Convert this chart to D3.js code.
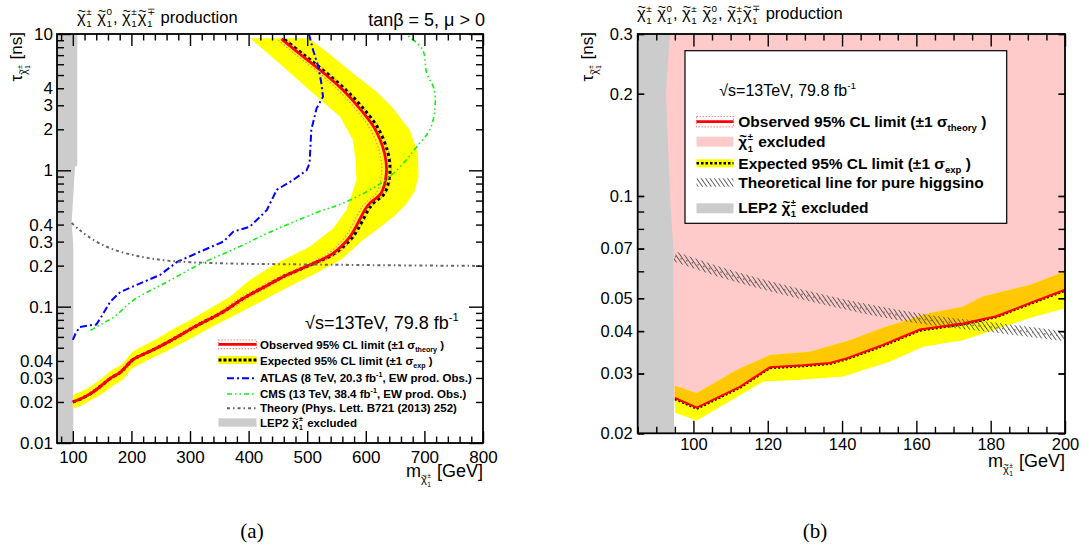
<!DOCTYPE html>
<html><head><meta charset="utf-8">
<script src="https://cdn.jsdelivr.net/npm/d3@7"></script>
<style>
body{margin:0;background:#fff}
svg{display:block}
text{font-family:"Liberation Sans",Arial,Helvetica,sans-serif;white-space:pre;fill:#000}
</style>
</head><body>
<svg id="c" width="1089" height="550"></svg>
<script>
// ---------------- Panel (a) data ----------------
const obsMassA = [100,113,130,147,165,181,200,207,240,272,310,357,391,430,459,504,544,573,598,606,626,635,632,615,588,561,522,488,456];
const obsTauA  = [0.020,0.021,0.023,0.026,0.030,0.033,0.040,0.042,0.049,0.058,0.072,0.092,0.115,0.142,0.166,0.202,0.246,0.326,0.51,0.57,0.68,0.95,1.33,2.03,2.9,3.88,5.44,7.1,9.2];
const expMassA = [100,113,130,147,165,181,200,207,240,272,310,357,391,430,459,505,547,578,604,612,632,641,638,621,594,566,527,493,460];
const expTauA  = [0.020,0.021,0.023,0.026,0.030,0.033,0.040,0.042,0.049,0.058,0.072,0.092,0.115,0.142,0.166,0.202,0.246,0.326,0.51,0.57,0.68,0.95,1.33,2.03,2.9,3.88,5.44,7.1,9.2];
const thUpMassA = [103,116,134,151,169,185,204,211,245,277,316,363,398,437,466,511,552,581,606,614,634,643,640,623,596,569,530,496,464];
const thDnMassA = [97,110,126,143,161,177,196,203,235,267,304,351,384,423,452,497,536,565,590,598,618,627,624,607,580,553,514,480,448];
const bandOutMassA = [100,115,130,150,170,185,200,230,260,300,340,380,410,450,482,520,560,595,620,647,668,683,690,689,675,645,618,578,540,503];
const bandOutTauA  = [0.0178,0.0188,0.0205,0.023,0.0265,0.029,0.035,0.041,0.047,0.058,0.072,0.088,0.103,0.127,0.150,0.180,0.225,0.308,0.37,0.457,0.56,0.70,0.9,1.33,1.98,2.9,3.78,5.15,7.0,9.3];
const bandInMassA = [403,456,510,556,578,583,584,567,544,504,448,402,368,330,300,270,240,210,200,185,165,150,130,115,100];
const bandInTauA  = [9.3,5.9,3.67,2.47,1.67,1.13,0.85,0.51,0.375,0.275,0.208,0.157,0.118,0.095,0.080,0.068,0.057,0.049,0.046,0.038,0.034,0.030,0.026,0.024,0.0225];
const atlasMassA = [100,105,112,129,140,147,164,181,221,249,278,317,357,374,402,431,448,476,499,504,507,516,527,524,519,510,503];
const atlasTauA  = [0.057,0.064,0.071,0.073,0.074,0.082,0.109,0.128,0.152,0.171,0.213,0.253,0.30,0.355,0.386,0.51,0.72,0.85,1.0,1.13,1.98,2.85,3.47,4.4,5.75,7.64,10];
const cmsMassA = [130,150,170,204,261,317,380,435,516,561,612,641,669,687,709,718,716,704,697,668];
const cmsTauA  = [0.067,0.075,0.084,0.112,0.152,0.205,0.27,0.35,0.49,0.574,0.74,0.9,1.19,1.49,1.98,2.8,4.0,5.15,7.64,10];
const theoMassA = [98,110,125,146,170,203,230,260,300,374,450,544,650,794];
const theoTauA  = [0.41,0.37,0.33,0.291,0.262,0.239,0.227,0.218,0.212,0.207,0.205,0.203,0.201,0.199];
const lepTauA  = [10,1.09,1.06,0.41,0.29,0.01];
const lepMassA = [107.6,107.6,103.7,98,100.8,100.8];
const xTicksA = [100,200,300,400,500,600,700,800];
const yTicksA = [0.01,0.02,0.03,0.04,0.1,0.2,0.3,0.4,1,2,3,4,10];

// ---------------- Panel (b) data ----------------
const obsMassB = [95,100.9,112.5,120.6,129.5,136.7,141.2,151,160.9,172.5,181.5,190.5,200];
const obsTauB  = [0.0254,0.0238,0.0274,0.0313,0.0317,0.0322,0.0332,0.0364,0.0404,0.0421,0.0442,0.0483,0.0529];
const expTauB  = [0.0252,0.0236,0.0272,0.0311,0.0315,0.0320,0.0330,0.0361,0.0401,0.0418,0.0439,0.0480,0.0525];
const bandUpMassB = [95,100.9,111.6,120.6,131.3,142.1,151,163.6,172.5,177.9,190.5,200];
const bandUpTauB  = [0.0276,0.0263,0.0307,0.034,0.0348,0.0376,0.0409,0.0452,0.0472,0.0506,0.0547,0.0599];
const bandLoMassB = [95,100.9,118.8,127.7,140.3,152.8,161.8,172.5,190.5,200];
const bandLoTauB  = [0.0230,0.0218,0.0284,0.0287,0.0294,0.0325,0.036,0.0376,0.0437,0.0467];
const higgsinoMassB = [95,109.8,127.7,145.6,163.6,181.5,200];
const higgsinoTauB  = [0.0663,0.0585,0.0518,0.0467,0.0431,0.0409,0.0386];
const lepTauB  = [0.3,0.2,0.1,0.07,0.02];
const lepMassB = [93.7,92.6,93.7,94.6,94.8];
const xTicksB = [100,120,140,160,180,200];
const yTicksB = [0.02,0.03,0.04,0.05,0.07,0.1,0.2,0.3];

// ---------------- helpers ----------------
const svg = d3.select('#c');
const defs = svg.append('defs');
const pat = defs.append('pattern').attr('id','hatch').attr('patternUnits','userSpaceOnUse')
  .attr('width',3.6).attr('height',10).attr('patternTransform','rotate(-35)');
pat.append('line').attr('x1',0.5).attr('y1',0).attr('x2',0.5).attr('y2',10).attr('stroke','#4a4a4a').attr('stroke-width',0.9);

function rich(parent, x, y, size, parts, o = {}) {
  const g = parent.append('g');
  let cx = 0;
  const fw = o.weight || 'normal';
  function txt(s, px, py, fs, anchor) {
    const t = g.append('text').attr('x', px).attr('y', py).attr('font-size', fs).attr('font-weight', fw).text(s);
    if (anchor) t.attr('text-anchor', anchor);
    return t;
  }
  parts.forEach(p => {
    if (typeof p === 'string') {
      const t = txt(p, cx, 0, size); cx += t.node().getComputedTextLength();
    } else if (p.chi) {
      const fs = size * (p.scale || 1), base = size * (p.dy || 0);
      const t = txt('χ', cx, base, fs);
      const w = t.node().getComputedTextLength();
      txt('~', cx + w * 0.55, base - fs * 0.4, fs * 0.85, 'middle');
      const ss = fs * 0.6; let wm = 0;
      if (p.sup) { const s = txt(p.sup, cx + w + 0.5, base - fs * 0.45, ss); wm = Math.max(wm, s.node().getComputedTextLength()); }
      if (p.sub) { const s = txt(p.sub, cx + w + 0.5, base + fs * 0.3, ss); wm = Math.max(wm, s.node().getComputedTextLength()); }
      cx += w + wm + 1.5;
    } else if (p.sup) {
      const t = txt(p.sup, cx, -size * 0.42, size * 0.62); cx += t.node().getComputedTextLength();
    } else if (p.sub) {
      const t = txt(p.sub, cx, size * 0.28, size * 0.62); cx += t.node().getComputedTextLength();
    }
  });
  const tx = o.anchor === 'end' ? -cx : o.anchor === 'middle' ? -cx / 2 : 0;
  if (o.rotate) g.attr('transform', `translate(${x},${y}) rotate(${o.rotate}) translate(${tx},0)`);
  else g.attr('transform', `translate(${x + tx},${y})`);
  return g;
}
const chi = (sup, sub, extra = {}) => Object.assign({chi: true, sup, sub}, extra);

function styleAxis(g, fs) {
  g.select('.domain').remove();
  g.attr('font-family', '"Liberation Sans",Arial,sans-serif').attr('font-size', fs);
  g.selectAll('line').attr('stroke', '#000').attr('stroke-width', 1.4);
  g.selectAll('text').attr('fill', '#000');
}
function drawAxes(x, y, box, xMaj, xMin, yMaj, yMin, yLab, xLab, o) {
  const [L, T, R, B] = box;
  const mk = (axis, tr) => { const g = svg.append('g').attr('transform', tr).call(axis); styleAxis(g, o.fs); return g; };
  mk(d3.axisBottom(x).tickValues(xMaj).tickSize(-o.xMajLen).tickFormat(''), `translate(0,${B})`);
  mk(d3.axisBottom(x).tickValues(xMin).tickSize(-o.xMinLen).tickFormat(''), `translate(0,${B})`);
  mk(d3.axisTop(x).tickValues(xMaj).tickSize(-o.xMajLen).tickFormat(''), `translate(0,${T})`);
  mk(d3.axisTop(x).tickValues(xMin).tickSize(-o.xMinLen).tickFormat(''), `translate(0,${T})`);
  mk(d3.axisBottom(x).tickValues(xLab).tickSize(0).tickPadding(o.xPad).tickFormat(d => String(d)), `translate(0,${B})`);
  mk(d3.axisLeft(y).tickValues(yMaj).tickSize(-o.yMajLen).tickFormat(''), `translate(${L},0)`);
  mk(d3.axisLeft(y).tickValues(yMin).tickSize(-o.yMinLen).tickFormat(''), `translate(${L},0)`);
  mk(d3.axisRight(y).tickValues(yMaj).tickSize(-o.yMajLen).tickFormat(''), `translate(${R},0)`);
  mk(d3.axisRight(y).tickValues(yMin).tickSize(-o.yMinLen).tickFormat(''), `translate(${R},0)`);
  mk(d3.axisLeft(y).tickValues(yLab).tickSize(0).tickPadding(o.yPad).tickFormat(d => String(d)), `translate(${L},0)`);
  svg.append('rect').attr('x', L).attr('y', T).attr('width', R - L).attr('height', B - T)
    .attr('fill', 'none').attr('stroke', '#000').attr('stroke-width', 1.8);
}

// ================= Panel (a) =================
const xA = d3.scaleLinear().domain([73, 800]).range([57, 483]);
const yA = d3.scaleLog().domain([0.01, 10]).range([443, 34]);
const lineA = d3.line().x(d => xA(d[0])).y(d => yA(d[1]));
const smA = d3.line().x(d => xA(d[0])).y(d => yA(d[1])).curve(d3.curveCatmullRom.alpha(0.5));
defs.append('clipPath').attr('id', 'clipA').append('rect').attr('x', 57).attr('y', 34).attr('width', 426).attr('height', 409);
const pA = svg.append('g').attr('clip-path', 'url(#clipA)');

const lepPolyA = [[60, lepTauA[0]]].concat(d3.zip(lepMassA, lepTauA), [[60, lepTauA[lepTauA.length - 1]]]);
pA.append('path').attr('d', lineA(lepPolyA) + 'Z').attr('fill', '#cccccc');
const bandA = d3.zip(bandOutMassA, bandOutTauA).concat(d3.zip(bandInMassA, bandInTauA));
pA.append('path').attr('d', lineA(bandA) + 'Z').attr('fill', '#ffff00');
[thUpMassA, thDnMassA].forEach(m => {
  pA.append('path').attr('d', smA(d3.zip(m, obsTauA))).attr('fill', 'none')
    .attr('stroke', '#ff8c8c').attr('stroke-width', 1.4).attr('stroke-dasharray', '1.5,2');
});
pA.append('path').attr('d', smA(d3.zip(expMassA, expTauA))).attr('fill', 'none')
  .attr('stroke', '#000').attr('stroke-width', 3).attr('stroke-dasharray', '3,3');
pA.append('path').attr('d', smA(d3.zip(obsMassA, obsTauA))).attr('fill', 'none')
  .attr('stroke', '#ff0000').attr('stroke-width', 2.8);
pA.append('path').attr('d', lineA(d3.zip(atlasMassA, atlasTauA))).attr('fill', 'none')
  .attr('stroke', '#0000ff').attr('stroke-width', 2).attr('stroke-dasharray', '7,3,2,3');
pA.append('path').attr('d', smA(d3.zip(cmsMassA, cmsTauA))).attr('fill', 'none')
  .attr('stroke', '#11f011').attr('stroke-width', 1.6).attr('stroke-dasharray', '5,3,1.5,3,1.5,3');
pA.append('path').attr('d', smA(d3.zip(theoMassA, theoTauA))).attr('fill', 'none')
  .attr('stroke', '#666666').attr('stroke-width', 2).attr('stroke-dasharray', '3,3,1.5,3');

drawAxes(xA, yA, [57, 34, 483, 443],
  xTicksA, d3.range(80, 801, 20).filter(v => v % 100 !== 0),
  [0.01, 0.1, 1, 10], [0.01, 0.1, 1].flatMap(d => d3.range(2, 10).map(k => k * d)),
  yTicksA, xTicksA,
  {fs: 17, xMajLen: 12, xMinLen: 6.5, yMajLen: 14, yMinLen: 7, xPad: 8, yPad: 4});

// texts (a)
rich(svg, 77, 22.5, 16.5, [chi('±', '1'), ' ', chi('0', '1'), ', ', chi('±', '1'), chi('∓', '1'), ' production']);
rich(svg, 485, 26, 18, ['tanβ = 5, μ > 0'], {anchor: 'end'});
rich(svg, 22, 32, 17, ['τ', chi('±', '1', {scale: 0.62, dy: 0.3}), ' [ns]'], {anchor: 'end', rotate: -90});
rich(svg, 483, 477, 18, ['m', chi('±', '1', {scale: 0.62, dy: 0.35}), ' [GeV]'], {anchor: 'end'});

// legend (a)
rich(svg, 305, 329, 18, ['√s=13TeV, 79.8 fb', {sup: '-1'}]);
const legA = svg.append('g');
legA.append('rect').attr('x', 218.5).attr('y', 340).attr('width', 38).attr('height', 8.6)
  .attr('fill', 'none').attr('stroke', '#ff8c8c').attr('stroke-width', 1.2).attr('stroke-dasharray', '1.5,1.5');
legA.append('line').attr('x1', 218.5).attr('x2', 256.5).attr('y1', 344.3).attr('y2', 344.3).attr('stroke', '#ff0000').attr('stroke-width', 2.8);
legA.append('rect').attr('x', 218.5).attr('y', 356).attr('width', 38).attr('height', 8).attr('fill', '#ffff00');
legA.append('line').attr('x1', 218.5).attr('x2', 256.5).attr('y1', 360).attr('y2', 360).attr('stroke', '#000').attr('stroke-width', 3).attr('stroke-dasharray', '3,2');
legA.append('line').attr('x1', 227).attr('x2', 256.5).attr('y1', 378.3).attr('y2', 378.3).attr('stroke', '#0000ff').attr('stroke-width', 2).attr('stroke-dasharray', '7,3,2,3');
legA.append('line').attr('x1', 227).attr('x2', 256.5).attr('y1', 394).attr('y2', 394).attr('stroke', '#11f011').attr('stroke-width', 1.6).attr('stroke-dasharray', '5,3,1.5,3,1.5,3');
legA.append('line').attr('x1', 227).attr('x2', 256.5).attr('y1', 408.3).attr('y2', 408.3).attr('stroke', '#666666').attr('stroke-width', 2).attr('stroke-dasharray', '3,3,1.5,3');
legA.append('rect').attr('x', 218.5).attr('y', 418.3).attr('width', 38).attr('height', 8.4).attr('fill', '#cccccc');
const lfA = 11.5;
rich(svg, 260, 348.5, lfA, ['Observed 95% CL limit (±1 σ', {sub: 'theory'}, ' )'], {weight: 'bold'});
rich(svg, 260, 364.5, lfA, ['Expected 95% CL limit (±1 σ', {sub: 'exp'}, ' )'], {weight: 'bold'});
rich(svg, 260, 382, lfA, ['ATLAS (8 TeV, 20.3 fb', {sup: '-1'}, ', EW prod. Obs.)'], {weight: 'bold'});
rich(svg, 260, 398, lfA, ['CMS (13 TeV, 38.4 fb', {sup: '-1'}, ', EW prod. Obs.)'], {weight: 'bold'});
rich(svg, 260, 412, lfA, ['Theory (Phys. Lett. B721 (2013) 252)'], {weight: 'bold'});
rich(svg, 260, 426.5, lfA, ['LEP2 ', chi('±', '1'), ' excluded'], {weight: 'bold'});

// ================= Panel (b) =================
const xB = d3.scaleLinear().domain([85, 200]).range([637.7, 1065]);
const yB = d3.scaleLog().domain([0.02, 0.3]).range([433.3, 34]);
const lineB = d3.line().x(d => xB(d[0])).y(d => yB(d[1]));
defs.append('clipPath').attr('id', 'clipB').append('rect').attr('x', 637.7).attr('y', 34).attr('width', 427.3).attr('height', 399.3);
const pB = svg.append('g').attr('clip-path', 'url(#clipB)');

const obsB = d3.zip(obsMassB, obsTauB);
const pinkPoly = obsB.concat([[205, obsTauB[obsTauB.length - 1]], [205, 0.35], [88, 0.35], [88, obsTauB[0]]]);
pB.append('path').attr('d', lineB(pinkPoly) + 'Z').attr('fill', '#ffcaca');
defs.append('clipPath').attr('id', 'pinkClip').append('path').attr('d', lineB(pinkPoly) + 'Z');
const bandB = d3.zip(bandUpMassB, bandUpTauB).concat(d3.zip(bandLoMassB, bandLoTauB).reverse());
pB.append('path').attr('d', lineB(bandB) + 'Z').attr('fill', '#ffff00');
pB.append('g').attr('clip-path', 'url(#pinkClip)').append('path').attr('d', lineB(bandB) + 'Z').attr('fill', '#ffc800');
const higB = d3.zip(higgsinoMassB, higgsinoTauB);
const smB = d3.line().x(d => xB(d[0])).y(d => yB(d[1])).curve(d3.curveCatmullRom.alpha(0.5));
pB.append('path').attr('d', smB(higB)).attr('fill', 'none').attr('stroke', 'url(#hatch)').attr('stroke-width', 10);
pB.append('path').attr('d', smB(higB)).attr('fill', 'none').attr('stroke', '#777').attr('stroke-width', 1.5).attr('stroke-dasharray', '1.5,4.5');
pB.append('path').attr('d', lineB(d3.zip(obsMassB, expTauB))).attr('fill', 'none')
  .attr('stroke', '#000').attr('stroke-width', 2).attr('stroke-dasharray', '2,2');
pB.append('path').attr('d', lineB(obsB)).attr('fill', 'none').attr('stroke', '#ff0000').attr('stroke-width', 2.2);
const lepPolyB = [[80, 0.35], [lepMassB[0], 0.35]].concat(d3.zip(lepMassB, lepTauB), [[lepMassB[lepMassB.length - 1], 0.018], [80, 0.018]]);
pB.append('path').attr('d', lineB(lepPolyB) + 'Z').attr('fill', '#cccccc');

// legend (b)
const legB = svg.append('g');
legB.append('rect').attr('x', 685).attr('y', 50.7).attr('width', 321.7).attr('height', 172.6)
  .attr('fill', '#fff').attr('stroke', '#000').attr('stroke-width', 1.2);
rich(svg, 719.3, 96, 16, ['√s=13TeV, 79.8 fb', {sup: '-1'}]);
legB.append('rect').attr('x', 696.5).attr('y', 116.5).attr('width', 37).attr('height', 10.4)
  .attr('fill', 'none').attr('stroke', '#ff8c8c').attr('stroke-width', 1.2).attr('stroke-dasharray', '1.5,1.5');
legB.append('line').attr('x1', 696.5).attr('x2', 733.5).attr('y1', 121.7).attr('y2', 121.7).attr('stroke', '#ff0000').attr('stroke-width', 2.8);
legB.append('rect').attr('x', 696.5).attr('y', 136.7).attr('width', 37).attr('height', 10).attr('fill', '#ffcaca');
legB.append('rect').attr('x', 696.5).attr('y', 159.3).attr('width', 37).attr('height', 8).attr('fill', '#ffff00');
legB.append('line').attr('x1', 696.5).attr('x2', 733.5).attr('y1', 163.3).attr('y2', 163.3).attr('stroke', '#000').attr('stroke-width', 2.5).attr('stroke-dasharray', '2.5,2');
legB.append('rect').attr('x', 696.5).attr('y', 178.3).attr('width', 37).attr('height', 8.4).attr('fill', 'url(#hatch)');
legB.append('rect').attr('x', 696.5).attr('y', 203.3).attr('width', 37).attr('height', 10).attr('fill', '#cccccc');
const lfB = 15.5;
rich(svg, 738.3, 126.5, lfB, ['Observed 95% CL limit (±1 σ', {sub: 'theory'}, ' )'], {weight: 'bold'});
rich(svg, 738.3, 147, lfB, [chi('±', '1'), ' excluded'], {weight: 'bold'});
rich(svg, 738.3, 169, lfB, ['Expected 95% CL limit (±1 σ', {sub: 'exp'}, ' )'], {weight: 'bold'});
rich(svg, 738.3, 187.5, lfB, ['Theoretical line for pure higgsino'], {weight: 'bold'});
rich(svg, 738.3, 212.7, lfB, ['LEP2 ', chi('±', '1'), ' excluded'], {weight: 'bold'});

drawAxes(xB, yB, [637.7, 34, 1065, 433.3],
  xTicksB, d3.range(85, 201, 5).filter(v => v % 20 !== 0),
  yTicksB, d3.range(2, 10).map(k => k / 100).concat([0.1, 0.2, 0.3]),
  yTicksB, xTicksB,
  {fs: 16.5, xMajLen: 12.5, xMinLen: 6.5, yMajLen: 6.5, yMinLen: 6.5, xPad: 5, yPad: 5});

rich(svg, 637, 19, 16.5, [chi('±', '1'), ' ', chi('0', '1'), ', ', chi('±', '1'), ' ', chi('0', '2'), ', ', chi('±', '1'), chi('∓', '1'), ' production']);
rich(svg, 593, 32, 17, ['τ', chi('±', '1', {scale: 0.62, dy: 0.3}), ' [ns]'], {anchor: 'end', rotate: -90});
rich(svg, 1065, 466.5, 18, ['m', chi('±', '1', {scale: 0.62, dy: 0.35}), ' [GeV]'], {anchor: 'end'});

// captions
svg.append('text').attr('x', 252).attr('y', 538).attr('text-anchor', 'middle').attr('font-size', 21)
  .style('font-family', '"Liberation Serif","DejaVu Serif",serif').text('(a)');
svg.append('text').attr('x', 815).attr('y', 538).attr('text-anchor', 'middle').attr('font-size', 21)
  .style('font-family', '"Liberation Serif","DejaVu Serif",serif').text('(b)');
</script>
</body></html>
